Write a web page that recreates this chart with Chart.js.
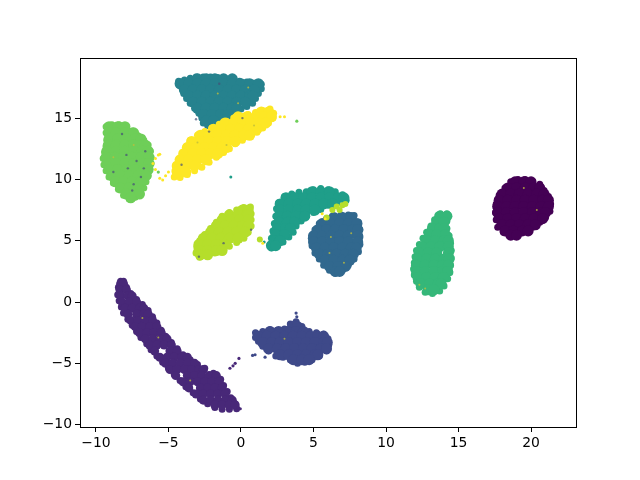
<!DOCTYPE html>
<html>
<head>
<meta charset="UTF-8">
<title>scatter</title>
<script src="https://cdn.jsdelivr.net/npm/chart.js@4/dist/chart.umd.min.js"></script>
<style>
    html, body { margin: 0; padding: 0; background: #fff; }
    #wrap { width: 640px; height: 480px; }
</style>
</head>
<body>
<div id="wrap"><canvas id="chart" width="640" height="480"></canvas></div>
<script>
// values, one array per cluster
const xTickValues = [-10, -5, 0, 5, 10, 15, 20];
const yTickValues = [-10, -5, 0, 5, 10, 15];

const cluster0 = [
    [18.9,9.8],[19.5,9.8],[20,9.8],
    [18.4,9.3],[19,9.3],[19.6,9.3],[20.2,9.3],[20.6,9.3],
    [18,8.8],[18.6,8.8],[19.2,8.8],[19.8,8.8],[20.4,8.8],[20.9,8.8],
    [17.8,8.3],[18.4,8.3],[19,8.3],[19.6,8.3],[20.2,8.3],[20.8,8.3],[21.2,8.3],
    [17.7,7.8],[18.3,7.8],[18.9,7.8],[19.5,7.8],[20.1,7.8],[20.7,7.8],[21.2,7.8],
    [17.7,7.3],[18.3,7.3],[18.9,7.3],[19.5,7.3],[20.1,7.3],[20.7,7.3],[21,7.3],
    [17.8,6.8],[18.4,6.8],[19,6.8],[19.6,6.8],[20.2,6.8],[20.8,6.8],
    [18,6.3],[18.6,6.3],[19.2,6.3],[19.8,6.3],[20.3,6.3],
    [18.2,5.8],[18.8,5.8],[19.4,5.8],[19.8,5.8],
    [18.6,5.45],[19,5.45]
];
const edge0 = [[17.55,7.3],[17.6,8],[17.8,8.7],[18.2,9.3],[18.6,9.8],[19.1,10],[19.6,10],[20.1,9.85],[20.6,9.6],[20.9,9.1],[21.2,8.6],[21.35,8],[21.3,7.4],[21,6.9],[20.6,6.5],[20.1,6.1],[19.6,5.8],[19.1,5.6],[18.6,5.5],[18.1,5.7],[17.7,6.1],[17.6,6.7]];
const cluster1 = [
    [-8.3,1.5],[-8.1,1.5],
    [-8.35,1],[-7.9,1],
    [-8.3,0.5],[-7.8,0.5],[-7.5,0.5],
    [-8.2,0],[-7.7,0],[-7.2,0],
    [-8,-0.5],[-7.5,-0.5],[-7,-0.5],[-6.7,-0.5],
    [-7.8,-1],[-7.2,-1],[-6.7,-1],[-6.4,-1],
    [-7.6,-1.5],[-7.1,-1.5],[-6.6,-1.5],[-6.1,-1.5],
    [-7.3,-2],[-6.8,-2],[-6.3,-2],[-5.8,-2],
    [-7,-2.5],[-6.5,-2.5],[-6,-2.5],[-5.5,-2.5],
    [-6.6,-3],[-6.1,-3],[-5.6,-3],[-5.1,-3],
    [-6.3,-3.5],[-5.8,-3.5],[-5.3,-3.5],[-4.8,-3.5],
    [-5.95,-4],[-4.9,-4],[-4.4,-4],
    [-5.6,-4.5],[-5.1,-4.5],[-4.6,-4.5],[-4.1,-4.5],[-3.7,-4.5],
    [-5.2,-5],[-4.7,-5],[-4.2,-5],[-3.7,-5],[-3.2,-5],
    [-4.9,-5.5],[-4.4,-5.5],[-3.9,-5.5],[-3.4,-5.5],[-2.9,-5.5],[-2.6,-5.5],
    [-4.5,-6],[-3.7,-6],[-3.2,-6],[-2.7,-6],[-2.2,-6],[-1.7,-6],
    [-4,-6.5],[-3.5,-6.5],[-3,-6.5],[-2.5,-6.5],[-2,-6.5],[-1.5,-6.5],
    [-3.6,-7],[-2.8,-7],[-2.3,-7],[-1.8,-7],[-1.3,-7],
    [-3.1,-7.5],[-2.6,-7.5],[-2.1,-7.5],[-1.6,-7.5],[-1.1,-7.5],
    [-2.6,-8],[-2.1,-8],[-1.6,-8],[-1.1,-8],[-0.6,-8],
    [-1.8,-8.4],[-1.3,-8.4],[-0.8,-8.4],[-0.4,-8.4]
];
const edge1 = [[-8.3,1.7],[-8.45,1.2],[-8.5,0.6],[-8.4,0.1],[-8.25,-0.4],[-8.1,-0.9],[-7.8,-1.4],[-7.5,-1.9],[-7.2,-2.4],[-6.9,-2.9],[-6.5,-3.4],[-6.2,-3.9],[-5.8,-4.4],[-5.4,-4.9],[-5,-5.4],[-4.6,-5.9],[-4.2,-6.4],[-3.8,-6.9],[-3.3,-7.4],[-2.8,-7.9],[-2.3,-8.3],[-1.8,-8.6],[-1.3,-8.75],[-0.8,-8.75],[-0.3,-8.7],[-0.4,-8.3],[-0.7,-7.8],[-0.95,-7.3],[-1.2,-6.8],[-1.4,-6.3],[-1.9,-5.8],[-2.5,-5.4],[-3,-5.1],[-3.5,-4.7],[-4,-4.3],[-4.4,-3.8],[-4.8,-3.3],[-5.2,-2.8],[-5.5,-2.3],[-5.8,-1.7],[-6.1,-1.2],[-6.4,-0.7],[-6.8,-0.2],[-7.2,0.2],[-7.6,0.7],[-7.9,1.2],[-8.1,1.7]];
const cluster2 = [
    [3.6,-2],[3.9,-2],
    [2,-2.4],[2.6,-2.4],[3.2,-2.4],[3.8,-2.4],[4.3,-2.4],
    [1.2,-2.8],[1.8,-2.8],[2.4,-2.8],[3,-2.8],[3.6,-2.8],[4.2,-2.8],[4.8,-2.8],[5.3,-2.8],[5.7,-2.8],
    [1.5,-3.3],[2.1,-3.3],[2.7,-3.3],[3.3,-3.3],[3.9,-3.3],[4.5,-3.3],[5.1,-3.3],[5.7,-3.3],[5.95,-3.3],
    [1.9,-3.8],[2.5,-3.8],[3.1,-3.8],[3.7,-3.8],[4.3,-3.8],[4.9,-3.8],[5.5,-3.8],[5.9,-3.8],
    [2.7,-4.3],[3.3,-4.3],[3.9,-4.3],[4.5,-4.3],[5.1,-4.3],[5.3,-4.3],
    [3.6,-4.7],[4.2,-4.7],[4.7,-4.7]
];
const edge2 = [[1,-2.5],[1.5,-2.4],[2,-2.25],[2.5,-2.3],[3,-2.2],[3.4,-1.8],[3.8,-1.6],[4.2,-2],[4.7,-2.4],[5.2,-2.5],[5.7,-2.6],[6,-3],[6.05,-3.5],[5.9,-4],[5.4,-4.4],[4.9,-4.7],[4.4,-4.9],[3.9,-5],[3.4,-4.7],[2.9,-4.5],[2.4,-4.4],[1.9,-4],[1.5,-3.6],[1.2,-3.2],[1,-2.9]];
const cluster3 = [
    [6.4,6.9],[7,6.9],[7.6,6.9],
    [5.6,6.4],[6.2,6.4],[6.8,6.4],[7.4,6.4],[8,6.4],
    [5.3,5.9],[5.9,5.9],[6.5,5.9],[7.1,5.9],[7.7,5.9],[8.05,5.9],
    [5,5.4],[5.6,5.4],[6.2,5.4],[6.8,5.4],[7.4,5.4],[8.05,5.4],
    [5,4.9],[5.6,4.9],[6.2,4.9],[6.8,4.9],[7.4,4.9],[8.05,4.9],
    [5.2,4.4],[5.8,4.4],[6.4,4.4],[7,4.4],[7.6,4.4],[7.95,4.4],
    [5.4,3.9],[6,3.9],[6.6,3.9],[7.2,3.9],[7.75,3.9],
    [5.8,3.4],[6.4,3.4],[7,3.4],[7.5,3.4],
    [6.1,2.9],[6.7,2.9],[7.2,2.9],
    [6.5,2.5],[6.8,2.5]
];
const edge3 = [[4.85,5.2],[5.1,5.9],[5.4,6.4],[5.9,6.8],[6.4,7],[6.9,7.1],[7.4,7.1],[7.8,7.05],[8.1,6.5],[8.2,5.9],[8.2,5.3],[8.2,4.7],[8.1,4.1],[7.8,3.5],[7.4,3],[7,2.6],[6.5,2.35],[6.1,2.6],[5.7,3],[5.4,3.5],[5.1,4],[4.9,4.6]];
const cluster4 = [
    [-3,18.2],[-2.4,18.2],[-1.8,18.2],[-1.2,18.2],[-0.6,18.2],
    [-4.2,17.8],[-3.6,17.8],[-3,17.8],[-2.4,17.8],[-1.8,17.8],[-1.2,17.8],[-0.6,17.8],[0,17.8],[0.6,17.8],[1.2,17.8],
    [-3.9,17.3],[-3.3,17.3],[-2.7,17.3],[-2.1,17.3],[-1.5,17.3],[-0.9,17.3],[-0.3,17.3],[0.3,17.3],[0.9,17.3],
    [-3.6,16.8],[-3,16.8],[-2.4,16.8],[-1.8,16.8],[-1.2,16.8],[-0.6,16.8],[0,16.8],[0.6,16.8],[0.8,16.8],
    [-3.3,16.3],[-2.7,16.3],[-2.1,16.3],[-1.5,16.3],[-0.9,16.3],[-0.3,16.3],[0.3,16.3],
    [-3,15.8],[-2.4,15.8],[-1.8,15.8],[-1.2,15.8],[-0.6,15.8],[-0.3,15.8],
    [-2.6,15.3],[-2,15.3],[-1.4,15.3],[-0.9,15.3],
    [-2.4,14.8],[-1.9,14.8]
];
const edge4 = [[-4.3,18],[-3.9,18.1],[-3.5,18.25],[-3.1,18.35],[-2.6,18.35],[-2.1,18.35],[-1.6,18.3],[-1.1,18.25],[-0.6,18.15],[-0.1,18],[0.4,17.95],[0.9,17.85],[1.4,17.75],[1.4,17.4],[1.2,17],[1,16.6],[0.8,16.2],[0.4,15.95],[0,15.75],[-0.5,15.6],[-0.9,15.2],[-1.4,15],[-1.8,14.6],[-2.3,14.4],[-2.6,14.6],[-2.7,15],[-2.9,15.4],[-3.2,15.8],[-3.5,16.2],[-3.75,16.6],[-3.95,17],[-4.05,17.4],[-4.2,17.7]];
const cluster5 = [
    [4.9,9],[5.5,9],[6.1,9],
    [3.1,8.5],[3.7,8.5],[4.3,8.5],[4.9,8.5],[5.5,8.5],[6.1,8.5],[6.7,8.5],[7.1,8.5],
    [2.7,8],[3.3,8],[3.9,8],[4.5,8],[5.1,8],[5.7,8],[6.3,8],
    [2.7,7.5],[3.3,7.5],[3.9,7.5],[4.5,7.5],[5.1,7.5],
    [2.6,7],[3.2,7],[3.8,7],[4.4,7],
    [2.6,6.5],[3.2,6.5],[3.7,6.5],
    [2.5,6],[3.1,6],[3.4,6],
    [2.4,5.5],[3,5.5],
    [2.3,5],[2.7,5],
    [2.1,4.6],[2.4,4.6]
];
const edge5 = [[2,4.7],[2.1,5.2],[2.2,5.8],[2.3,6.4],[2.4,7],[2.45,7.6],[2.6,8.1],[3,8.6],[3.5,8.8],[4,8.95],[4.5,9],[5,9.15],[5.5,9.25],[6,9.15],[6.5,9],[7,8.75],[7.25,8.3],[6.6,8.05],[6,7.9],[5.5,7.55],[5,7.3],[4.5,7],[4.15,6.6],[3.8,6.2],[3.6,5.7],[3.3,5.3],[2.9,4.9],[2.5,4.6],[2.1,4.4]];
const cluster6 = [
    [13.7,7],[14.2,7],
    [13.5,6.5],[14,6.5],
    [13.2,6],[13.7,6],[14,6],
    [13,5.5],[13.5,5.5],[14.1,5.5],
    [12.8,5],[13.4,5],[14,5],[14.3,5],
    [12.5,4.5],[13.1,4.5],[13.7,4.5],[14.3,4.5],
    [12.3,4],[12.9,4],[13.5,4],[14.3,4],
    [12.2,3.5],[12.8,3.5],[13.4,3.5],[14,3.5],[14.35,3.5],
    [12.1,3],[12.7,3],[13.3,3],[13.9,3],[14.3,3],
    [12.1,2.5],[12.7,2.5],[13.3,2.5],[13.9,2.5],[14.25,2.5],
    [12.2,2],[12.8,2],[13.4,2],[13.95,2],
    [12.4,1.5],[13,1.5],[13.6,1.5],[13.8,1.5],
    [12.9,1],[13.3,1]
];
const edge6 = [[14.2,7.2],[13.75,7.2],[13.35,6.7],[13.1,6.2],[12.8,5.7],[12.55,5.2],[12.3,4.7],[12.1,4.2],[12,3.7],[11.95,3.2],[11.9,2.7],[11.95,2.2],[12.1,1.7],[12.3,1.2],[12.7,0.8],[13.2,0.7],[13.7,0.9],[14,1.3],[14.25,1.9],[14.4,2.4],[14.45,3],[14.5,3.6],[14.5,4.2],[14.45,4.8],[14.35,5.4],[14.2,6],[14.2,6.6]];
const cluster7 = [
    [-9.1,14.3],[-8.5,14.3],[-8,14.3],
    [-9.1,13.8],[-8.6,13.8],[-8,13.8],[-7.4,13.8],
    [-9.1,13.3],[-8.5,13.3],[-7.9,13.3],[-7.3,13.3],[-6.9,13.3],
    [-9.15,12.8],[-8.6,12.8],[-8,12.8],[-7.4,12.8],[-6.8,12.8],[-6.6,12.8],
    [-9.25,12.3],[-8.6,12.3],[-8,12.3],[-7.4,12.3],[-6.8,12.3],[-6.4,12.3],
    [-9.3,11.8],[-8.7,11.8],[-8.1,11.8],[-7.5,11.8],[-6.9,11.8],[-6.35,11.8],
    [-9.2,11.3],[-8.6,11.3],[-8,11.3],[-7.4,11.3],[-6.8,11.3],[-6.35,11.3],
    [-9.1,10.8],[-8.5,10.8],[-7.9,10.8],[-7.3,10.8],[-6.7,10.8],[-6.4,10.8],
    [-8.9,10.3],[-8.3,10.3],[-7.7,10.3],[-7.1,10.3],[-6.55,10.3],
    [-8.65,9.8],[-8.1,9.8],[-7.5,9.8],[-6.9,9.8],
    [-8.3,9.3],[-7.7,9.3],[-7.1,9.3],
    [-7.9,8.8],[-7.4,8.8],[-7,8.8],
    [-7.6,8.5]
];
const edge7 = [[-9.3,14.3],[-8.9,14.45],[-8.4,14.45],[-7.95,14.25],[-7.5,13.95],[-7.1,13.55],[-6.7,13.2],[-6.4,12.8],[-6.25,12.3],[-6.2,11.8],[-6.2,11.3],[-6.3,10.8],[-6.4,10.3],[-6.55,9.8],[-6.7,9.3],[-6.9,8.8],[-7.3,8.55],[-7.7,8.4],[-8.1,8.7],[-8.45,9.2],[-8.8,9.7],[-9.1,10.2],[-9.3,10.7],[-9.45,11.2],[-9.5,11.7],[-9.4,12.2],[-9.3,12.7],[-9.25,13.2],[-9.3,13.8]];
const cluster8 = [
    [0.1,7.5],[0.5,7.5],
    [-0.8,7.1],[-0.2,7.1],[0.4,7.1],[0.5,7.1],
    [-1.3,6.7],[-0.7,6.7],[-0.1,6.7],[0.5,6.7],
    [-1.7,6.2],[-1.1,6.2],[-0.5,6.2],[0.1,6.2],[0.5,6.2],
    [-2.1,5.7],[-1.5,5.7],[-0.9,5.7],[-0.3,5.7],[0.3,5.7],
    [-2.6,5.2],[-2,5.2],[-1.4,5.2],[-0.8,5.2],[-0.2,5.2],
    [-2.9,4.7],[-2.3,4.7],[-1.7,4.7],[-1.1,4.7],
    [-2.9,4.2],[-2.3,4.2],[-1.7,4.2],[-1.3,4.2],
    [-2.8,3.85],[-2.3,3.85]
];
const edge8 = [[-3.1,4],[-3.05,4.5],[-2.85,5],[-2.5,5.5],[-2.1,6],[-1.7,6.5],[-1.3,7],[-0.8,7.3],[-0.3,7.5],[0.2,7.7],[0.65,7.75],[0.7,7.2],[0.7,6.7],[0.7,6.2],[0.5,5.7],[0.2,5.2],[-0.3,4.85],[-0.8,4.55],[-1.3,4.3],[-1.8,4],[-2.3,3.75],[-2.85,3.65]];
const cluster9 = [
    [1.4,15.5],[1.9,15.5],
    [-0.2,15.1],[0.4,15.1],[1,15.1],[1.6,15.1],[2.1,15.1],
    [-1.1,14.6],[-0.5,14.6],[0.1,14.6],[0.7,14.6],[1.3,14.6],[1.7,14.6],
    [-1.9,14.1],[-1.3,14.1],[-0.7,14.1],[-0.1,14.1],[0.5,14.1],[1.1,14.1],
    [-2.8,13.6],[-2.2,13.6],[-1.6,13.6],[-1,13.6],[-0.4,13.6],[0.2,13.6],[0.6,13.6],
    [-3.4,13.1],[-2.8,13.1],[-2.2,13.1],[-1.6,13.1],[-1,13.1],[-0.4,13.1],
    [-3.7,12.6],[-3.1,12.6],[-2.5,12.6],[-1.9,12.6],[-1.3,12.6],[-1,12.6],
    [-3.95,12.1],[-3.3,12.1],[-2.7,12.1],[-2.1,12.1],[-1.6,12.1],
    [-4.2,11.6],[-3.6,11.6],[-3,11.6],[-2.4,11.6],
    [-4.4,11.1],[-3.8,11.1],[-3.2,11.1],
    [-4.4,10.6],[-3.8,10.6]
];
const edge9 = [[-4.6,10.2],[-4.55,10.7],[-4.45,11.2],[-4.2,11.7],[-4,12.2],[-3.75,12.7],[-3.5,13.2],[-3,13.6],[-2.5,13.9],[-2,14.2],[-1.5,14.5],[-1,14.75],[-0.5,15],[0,15.15],[0.5,15.3],[1,15.45],[1.5,15.6],[2,15.75],[2.25,15.4],[2.2,15],[1.9,14.6],[1.5,14.2],[1.1,13.85],[0.6,13.5],[0.1,13.2],[-0.4,12.9],[-0.8,12.5],[-1.2,12.2],[-1.7,11.8],[-2.2,11.4],[-2.7,11],[-3.2,10.7],[-3.7,10.4],[-4.2,10.15]];

// small stray dots, drawn on top of the clusters
const stray1 = [[-0.76,-5.4],[-0.55,-5.2],[-0.4,-5],[-0.14,-4.6],[-0.05,-8.7],[-0.2,-8.6]];
const stray2 = [[3.8,-0.9],[3.85,-1.2],[3.85,-1.5],[0.97,-4.3],[0.8,-4.35],[1.66,-4.5]];
const stray5 = [[-0.7,10.2],[1.6,4.9]];
const stray7 = [[3.85,14.75],[-5.7,10.6]];
const stray8 = [[6.6,7.8],[7,7.9],[6.3,7.5],[6.8,7.5],[7.2,8],[5.9,6.9],[1.3,5.1]];
const stray9 = [[-6.07,11.3],[-5.9,11.7],[-5.7,12],[-5.6,12.06],[-5.9,10.8],[-5.6,10.1],[-5.2,10.3],[-5.4,9.95],[-5,10.6],[2.7,15.1],[3,15.1],[1.5,4.8],[5.6,7.2],[5.8,6.8]];
const speckleDark = [[-7.9,12],[-7.2,11.5],[-6.7,10.9],[-7.4,9.6],[-8.8,10.6],[-6.6,12.3],[-8.2,13.7],[-7.5,9.1],[-6.9,10.2],[-7.8,10.9],[-1.5,17.8],[-3.1,14.9],[-2.2,13.9],[0.1,15],[-4.1,11.2],[-1.2,4.8],[0.7,5.9],[-2.9,3.7]];
const speckleLight = [[-1.6,17],[0.5,17.5],[-0.2,16.2],[-3,13],[-1,12.8],[0.9,14.4],[-7.4,12.8],[-8.8,11.8],[6.1,4],[7.1,3.2],[6.2,5.3],[7.6,5.6],[12.3,1.4],[12.7,1.1],[-6.8,-1.3],[-5.7,-2.9],[-3.5,-6.4],[3,-3],[19.5,9.3],[20.4,7.5]];

const clusterColors = ['#440154', '#482878', '#3e4989', '#31688e', '#26828e', '#1f9e89', '#35b779', '#6ece58', '#b5de2b', '#fde725'];
const clusterSets = [cluster0, cluster1, cluster2, cluster3, cluster4, cluster5, cluster6, cluster7, cluster8, cluster9];
const edgeSets = [edge0, edge1, edge2, edge3, edge4, edge5, edge6, edge7, edge8, edge9];

function toPoints(list) {
    return list.map(p => ({ x: p[0], y: p[1] }));
}

function minusSign(value) {
    return String(value).replace('-', '\u2212');
}

// chart.js paints the first dataset last, so push bottom layers first and reverse
const datasets = [];
clusterSets.forEach((list, i) => {
    datasets.push({ data: toPoints(edgeSets[i]), backgroundColor: clusterColors[i], pointRadius: 3.5 });
    datasets.push({ data: toPoints(list), backgroundColor: clusterColors[i], pointRadius: i === 1 ? 4.5 : 5.5 });
});

const strays = [
    [stray1, clusterColors[1], 1.6], [stray2, clusterColors[2], 1.6], [stray5, clusterColors[5], 1.5],
    [stray7, clusterColors[7], 1.6], [stray8, clusterColors[8], 3], [stray9, clusterColors[9], 1.5],
    [speckleDark, 'rgba(70,80,120,0.7)', 1.2], [speckleLight, 'rgba(190,190,60,0.8)', 1]
];
strays.forEach(s => datasets.push({ data: toPoints(s[0]), backgroundColor: s[1], pointRadius: s[2] }));
datasets.reverse();

// matplotlib style frame on all four sides
const framePlugin = {
    id: 'frame',
    afterDatasetsDraw(chart) {
        const a = chart.chartArea;
        const c = chart.ctx;
        c.save();
        c.strokeStyle = '#000';
        c.lineWidth = 1;
        c.strokeRect(a.left + 0.5, a.top + 0.5, a.right - a.left, a.bottom - a.top);
        c.restore();
    }
};

new Chart(document.getElementById('chart'), {
    type: 'scatter',
    data: { datasets: datasets },
    plugins: [framePlugin],
    options: {
        responsive: false,
        animation: false,
        layout: { padding: { top: 58, right: 64, left: 0, bottom: 0 } },
        elements: { point: { borderWidth: 0, hoverRadius: 5 } },
        plugins: { legend: { display: false }, tooltip: { enabled: false } },
        scales: {
            x: {
                type: 'linear',
                min: -11.1,
                max: 23.1,
                afterFit(scale) { scale.height = 53; },
                afterBuildTicks(scale) { scale.ticks = xTickValues.map(v => ({ value: v })); },
                grid: { drawOnChartArea: false, color: '#000', tickLength: 5, tickWidth: 1, tickColor: '#000' },
                border: { display: false },
                ticks: {
                    color: '#000', padding: 3, maxRotation: 0, autoSkip: false,
                    font: { family: 'DejaVu Sans', size: 13.9 },
                    callback: minusSign
                }
            },
            y: {
                type: 'linear',
                min: -10.19,
                max: 19.9,
                afterFit(scale) { scale.width = 80; },
                afterBuildTicks(scale) { scale.ticks = yTickValues.map(v => ({ value: v })); },
                grid: { drawOnChartArea: false, color: '#000', tickLength: 5, tickWidth: 1, tickColor: '#000' },
                border: { display: false },
                ticks: {
                    color: '#000', padding: 3, autoSkip: false,
                    font: { family: 'DejaVu Sans', size: 13.9 },
                    callback: minusSign
                }
            }
        }
    }
});
</script>
</body>
</html>
